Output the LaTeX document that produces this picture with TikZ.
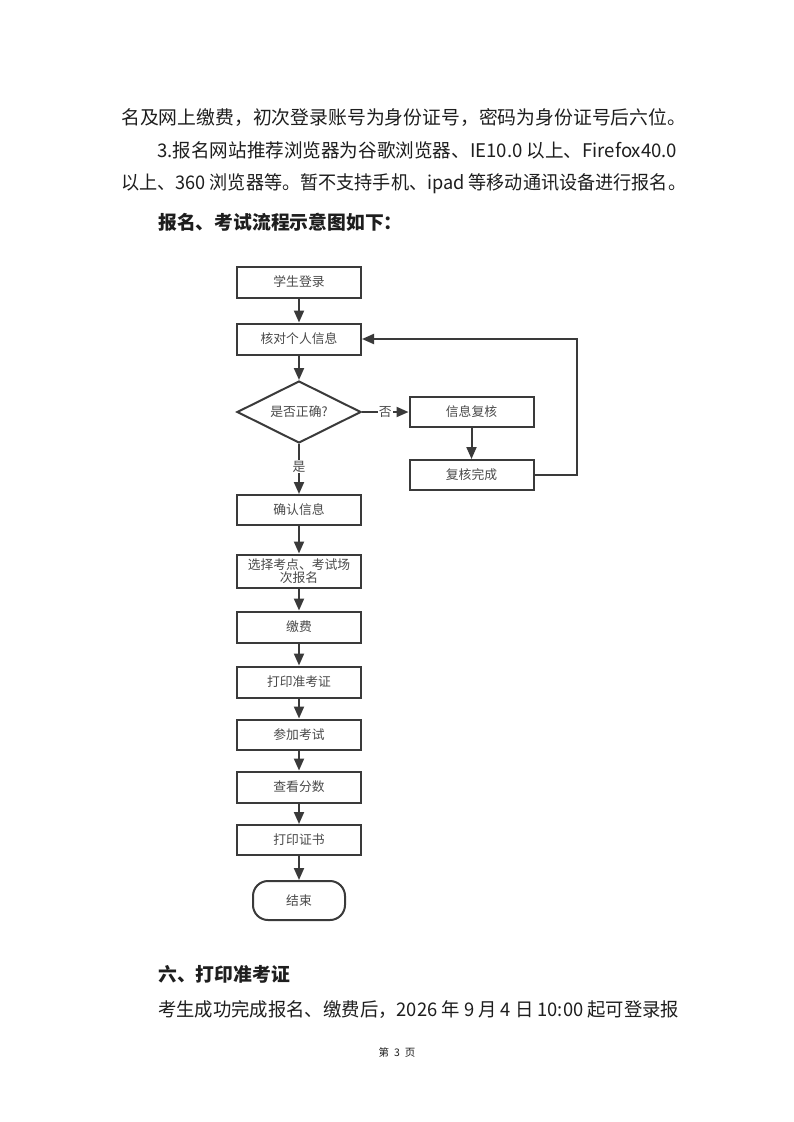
\documentclass[tikz,border=0pt]{standalone}
\usepackage{fontspec}
\usepackage{graphicx}
\usetikzlibrary{shapes.geometric,arrows.meta}
\newfontfamily\cjk{Noto Sans CJK SC}
\definecolor{bodytext}{HTML}{1E1E1E}
\definecolor{flowtext}{HTML}{4A4A4A}
\definecolor{flowline}{HTML}{3A3A3A}
\tikzset{
  para/.style={anchor=base west, inner sep=0pt, text=bodytext, font=\cjk\fontsize{18.8}{20}\selectfont},
  parahead/.style={para, font=\cjk\bfseries\fontsize{18.8}{20}\selectfont},
  flowbox/.style={draw=flowline, line width=2pt, minimum width=124pt, minimum height=31pt, inner sep=1pt, text=flowtext, align=center, font=\cjk\fontsize{12.8}{16}\selectfont},
  flowtest/.style={flowbox, diamond, aspect=2, minimum width=124pt, minimum height=62pt, inner sep=0pt},
  flowend/.style={flowbox, rounded corners=15pt, minimum width=92pt, minimum height=39pt},
  flowarrow/.style={draw=flowline, line width=2pt, -{Triangle[length=12pt,width=10pt]}},
  flowlabel/.style={fill=white, inner sep=1pt, text=flowtext, font=\cjk\fontsize{12.8}{14}\selectfont}
}
\begin{document}
\begin{tikzpicture}[x=1pt,y=-1pt]
\useasboundingbox (0,0) rectangle (793,1122);
\fill[white] (0,0) rectangle (793,1122);
% text above
\node[para] (line1) at (121,124) {\resizebox{565pt}{\height}{名及网上缴费，初次登录账号为身份证号，密码为身份证号后六位。}};
\node[para] (line2) at (157,157) {\resizebox{520pt}{\height}{3.报名网站推荐浏览器为谷歌浏览器、IE10.0 以上、Firefox40.0}};
\node[para] (line3) at (121,189) {\resizebox{565pt}{\height}{以上、360 浏览器等。暂不支持手机、ipad 等移动通讯设备进行报名。}};
\node[parahead] (head1) at (158,229) {报名、考试流程示意图如下：};
% flow chart
\node[flowbox] (login) at (299,282) {学生登录};
\node[flowbox] (check) at (299,339) {核对个人信息};
\node[flowtest] (ok) at (299,412) {是否正确?};
\node[flowbox, minimum height=30pt] (review) at (471.5,412) {信息复核};
\node[flowbox, minimum height=30pt] (done) at (471.5,475) {复核完成};
\node[flowbox, minimum height=30pt] (confirm) at (299,510) {确认信息};
\node[flowbox, minimum height=33pt, inner sep=0pt] (choose) at (299,571) {选择考点、考试场\\[-3pt]次报名};
\node[flowbox] (pay) at (299,627) {缴费};
\node[flowbox] (print) at (299,682) {打印准考证};
\node[flowbox, minimum height=30pt] (exam) at (299,734.5) {参加考试};
\node[flowbox] (score) at (299,787) {查看分数};
\node[flowbox, minimum height=30pt] (cert) at (299,840) {打印证书};
\node[flowend] (finish) at (299,900.5) {结束};
\draw[flowarrow] (login) -- (check);
\draw[flowarrow] (check) -- (ok);
\draw[flowarrow] (ok.east) -- node[flowlabel] {否} (review.west);
\draw[flowarrow] (review) -- (done);
\draw[flowarrow] (done.east) -- ++(42,0) |- (check.east);
\draw[flowarrow] (ok.south) -- node[flowlabel, pos=0.45] {是} (confirm.north);
\draw[flowarrow] (confirm) -- (choose);
\draw[flowarrow] (choose) -- (pay);
\draw[flowarrow] (pay) -- (print);
\draw[flowarrow] (print) -- (exam);
\draw[flowarrow] (exam) -- (score);
\draw[flowarrow] (score) -- (cert);
\draw[flowarrow] (cert) -- (finish);
% text below
\node[parahead] (head2) at (158,981) {六、打印准考证};
\node[para] (line4) at (158,1016.5) {\resizebox{521pt}{\height}{考生成功完成报名、缴费后，2026 年 9 月 4 日 10:00 起可登录报}};
\node[para, anchor=base, font=\cjk\fontsize{10.5}{12}\selectfont] (pageno) at (397,1056) {第\hspace{5pt}3\hspace{5pt}页};
\end{tikzpicture}
\end{document}
